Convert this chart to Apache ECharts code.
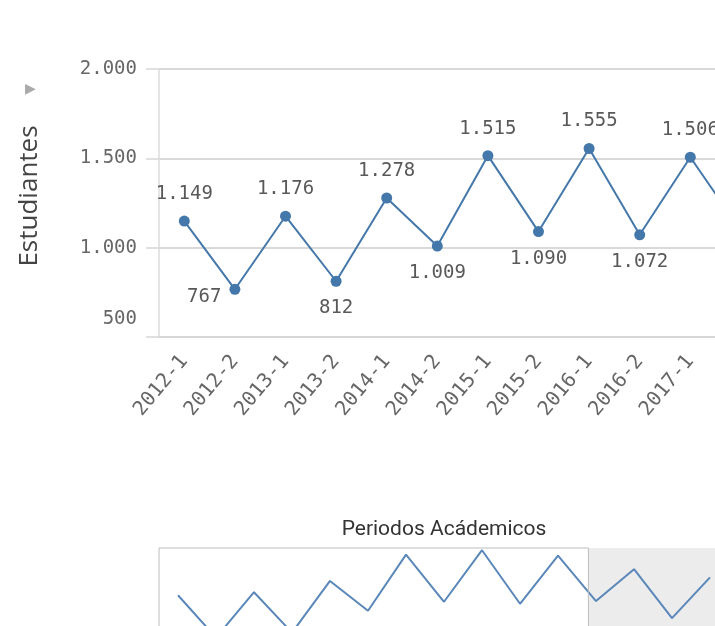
<!DOCTYPE html>
<html>
<head>
<meta charset="utf-8">
<script src="https://cdn.jsdelivr.net/npm/echarts@6/dist/echarts.min.js"></script>
<style>
html, body { margin: 0; padding: 0; overflow: hidden; background: #fff; }
#grafico { width: 940px; height: 680px; }
</style>
</head>
<body>
<div id="grafico"></div>
<script>
// datos
var periodos = ['2012-1','2012-2','2013-1','2013-2','2014-1','2014-2','2015-1','2015-2',
                '2016-1','2016-2','2017-1','2017-2','2018-1','2018-2','2019-1'];
var estudiantes = [1149, 767, 1176, 812, 1278, 1009, 1515, 1090, 1555, 1072, 1506, 1096, 1384, 942, 1310];
var ticksY = [500, 1000, 1500, 2000];
var ventana = 11.3; // periodos visibles en el grafico principal

var fuente = 'DejaVu Sans Mono';
var azul = '#4477aa';

function miles(v) {
    return String(v).replace(/\B(?=(\d{3})+(?!\d))/g, '.');
}

var puntos = estudiantes.map(function (v, i) {
    var ant = estudiantes[i - 1], sig = estudiantes[i + 1];
    var pico = (ant == null || v > ant) && (sig == null || v > sig);
    var label = { position: pico ? 'top' : 'bottom', distance: 12 };
    if (i === 1) {
        // el primer valle va a la izquierda (como en el original)
        label = { position: 'left', distance: 8, offset: [0, 8] };
    }
    // fuera de la ventana visible no se etiqueta
    if (i + 0.5 > ventana) label.show = false;
    return { value: v, label: label };
});

var dom = document.getElementById('grafico');
var myChart = echarts.init(dom);

var option = {
    animation: false,
    grid: [
        { left: 159, top: 69, width: 759, height: 268 },
        { left: 159, top: 548, width: 570, height: 97 }
    ],
    xAxis: [
        {
            type: 'category',
            gridIndex: 0,
            data: periodos,
            boundaryGap: true,
            axisLine: { show: true, lineStyle: { color: '#d6d6d6', width: 1.5 } },
            axisTick: { show: false },
            axisLabel: {
                rotate: 50,
                margin: 21,
                interval: function (idx) { return idx + 0.5 < ventana; },
                color: '#666',
                fontFamily: fuente,
                fontSize: 20
            }
        },
        {
            type: 'category',
            gridIndex: 1,
            data: periodos,
            boundaryGap: true,
            position: 'top',
            axisLine: { show: false },
            axisTick: { show: false },
            axisLabel: { show: false },
            name: 'Periodos Acádemicos',
            nameLocation: 'middle',
            nameGap: 8,
            nameTextStyle: { color: '#333', fontFamily: 'Roboto', fontSize: 21 }
        }
    ],
    yAxis: [
        {
            type: 'value',
            gridIndex: 0,
            min: ticksY[0],
            max: ticksY[ticksY.length - 1],
            interval: 500,
            name: 'Estudiantes',
            nameLocation: 'middle',
            nameGap: 116,
            nameTextStyle: { color: '#444', fontFamily: 'Open Sans', fontSize: 26, padding: [0, 0, 0, 14] },
            axisLine: { show: true, lineStyle: { color: '#dcdcdc', width: 1.5 } },
            axisTick: { show: true, length: 13, lineStyle: { color: '#d6d6d6', width: 1.5 } },
            splitLine: { show: true, lineStyle: { color: '#d9d9d9', width: 2 } },
            axisLabel: {
                margin: 22,
                color: '#666',
                fontFamily: fuente,
                fontSize: 19,
                formatter: function (v) {
                    if (v === ticksY[0]) return '{min|' + miles(v) + '}';
                    return miles(v);
                },
                rich: {
                    min: { fontFamily: fuente, fontSize: 19, color: '#666', padding: [0, 0, 36, 0] }
                }
            }
        },
        {
            type: 'value',
            gridIndex: 1,
            min: 700,
            max: 1575,
            show: false,
            splitLine: { show: false }
        }
    ],
    series: [
        {
            name: 'Estudiantes',
            type: 'line',
            xAxisIndex: 0,
            yAxisIndex: 0,
            data: puntos,
            symbol: 'circle',
            symbolSize: 11,
            itemStyle: { color: azul },
            lineStyle: { color: azul, width: 2 },
            label: {
                show: true,
                color: '#595959',
                fontFamily: fuente,
                fontSize: 19,
                formatter: function (p) { return miles(p.value); }
            }
        },
        {
            name: 'resumen',
            type: 'line',
            xAxisIndex: 1,
            yAxisIndex: 1,
            data: estudiantes,
            symbol: 'none',
            silent: true,
            lineStyle: { color: '#5a87b9', width: 2 },
            z: 3
        }
    ]
};

myChart.setOption(option);

// ventana de seleccion del resumen, calculada con la escala del eje
var x0 = myChart.convertToPixel({ xAxisIndex: 1 }, periodos[0]);
var x1 = myChart.convertToPixel({ xAxisIndex: 1 }, periodos[1]);
var banda = x1 - x0;
var izq = x0 - banda / 2;
var fin = izq + banda * ventana;
var der = izq + banda * periodos.length;
var arriba = myChart.convertToPixel({ yAxisIndex: 1 }, 1575);
var abajo = myChart.convertToPixel({ yAxisIndex: 1 }, 700);

myChart.setOption({
    graphic: [
        {
            type: 'rect', silent: true, z: -10,
            shape: { x: fin, y: arriba, width: der - fin, height: abajo - arriba },
            style: { fill: '#ececec' }
        },
        {
            type: 'rect', silent: true, z: 10,
            shape: { x: izq, y: arriba, width: fin - izq, height: abajo - arriba },
            style: { fill: 'none', stroke: '#bdbdbd', lineWidth: 1 }
        },
        {
            type: 'text', silent: true,
            left: 25, top: 82,
            style: { text: '▶', fill: '#aaa', fontSize: 14, fontFamily: 'DejaVu Sans' }
        }
    ]
});
</script>
</body>
</html>
